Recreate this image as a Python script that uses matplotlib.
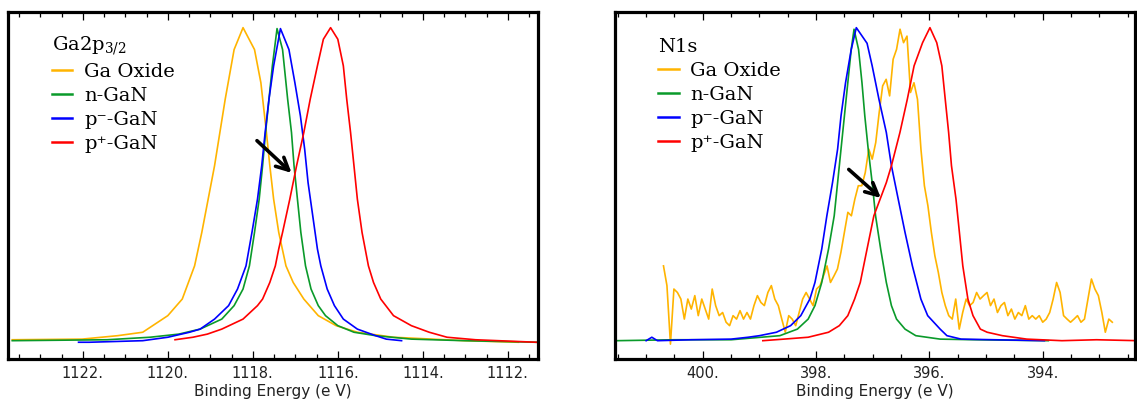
import numpy as np
import matplotlib
matplotlib.use("Agg")
from matplotlib import pyplot as plt
from matplotlib.ticker import MultipleLocator

# ---- Ga2p3/2 spectra (binding energy eV, normalised intensity) ----
ga_oxide_e = [1123.66, 1122.02, 1121.18, 1120.59, 1120.0, 1119.66, 1119.37, 1119.2, 1118.9,
              1118.65, 1118.44, 1118.23, 1117.96, 1117.81, 1117.68, 1117.6, 1117.51, 1117.39,
              1117.22, 1117.05, 1116.8, 1116.46, 1116.04, 1115.54, 1114.69, 1113.01, 1111.75]
ga_oxide_i = [0.003, 0.005, 0.016, 0.027, 0.08, 0.133, 0.239, 0.346, 0.559,
              0.771, 0.93, 1.0, 0.93, 0.824, 0.665, 0.559, 0.452, 0.346,
              0.239, 0.186, 0.133, 0.08, 0.048, 0.027, 0.011, 0.0, -0.005]

ga_n_e = [1123.66, 1121.43, 1120.42, 1119.74, 1119.24, 1118.73, 1118.44, 1118.23, 1118.08,
          1117.96, 1117.85, 1117.77, 1117.70, 1117.62, 1117.54, 1117.43, 1117.30, 1117.18,
          1117.09, 1117.03, 1116.95, 1116.87, 1116.76, 1116.63, 1116.46, 1116.29, 1116.0,
          1115.62, 1115.11, 1114.27, 1113.01, 1111.33]
ga_n_i = [0.0, 0.003, 0.011, 0.021, 0.037, 0.069, 0.112, 0.165, 0.239,
          0.346, 0.452, 0.559, 0.665, 0.771, 0.878, 0.997, 0.93, 0.771,
          0.665, 0.559, 0.452, 0.346, 0.239, 0.165, 0.112, 0.08, 0.048,
          0.027, 0.016, 0.005, 0.0, -0.005]

ga_pm_e = [1122.1, 1121.85, 1120.59, 1120.0, 1119.49, 1119.24, 1118.9, 1118.57, 1118.36,
           1118.16, 1118.02, 1117.89, 1117.79, 1117.71, 1117.62, 1117.51, 1117.35, 1117.15,
           1117.01, 1116.88, 1116.78, 1116.70, 1116.59, 1116.48, 1116.40, 1116.25, 1116.08,
           1115.87, 1115.54, 1115.11, 1114.86, 1114.5]
ga_pm_i = [-0.005, -0.005, 0.0, 0.011, 0.027, 0.037, 0.069, 0.112, 0.165,
           0.239, 0.346, 0.452, 0.559, 0.665, 0.771, 0.878, 0.997, 0.93,
           0.824, 0.718, 0.612, 0.505, 0.399, 0.293, 0.239, 0.165, 0.112,
           0.069, 0.037, 0.016, 0.005, 0.0]

ga_pp_e = [1119.83, 1119.41, 1119.07, 1118.73, 1118.23, 1117.89, 1117.77, 1117.6, 1117.47,
           1117.39, 1117.30, 1117.13, 1116.97, 1116.80, 1116.65, 1116.48, 1116.34, 1116.17,
           1116.0, 1115.87, 1115.79, 1115.70, 1115.62, 1115.54, 1115.43, 1115.28, 1115.16,
           1114.99, 1114.69, 1114.27, 1113.85, 1113.43, 1112.76, 1111.33]
ga_pp_i = [0.003, 0.011, 0.021, 0.037, 0.069, 0.112, 0.133, 0.186, 0.239,
           0.293, 0.346, 0.452, 0.559, 0.665, 0.771, 0.878, 0.963, 1.0,
           0.963, 0.878, 0.771, 0.665, 0.559, 0.452, 0.346, 0.239, 0.186,
           0.133, 0.08, 0.048, 0.027, 0.011, 0.003, -0.005]

# ---- N1s spectra ----
n_oxide_e = [400.694, 400.633, 400.571, 400.510, 400.448, 400.387, 400.326, 400.264, 400.203, 400.141,
             400.080, 400.018, 399.957, 399.896, 399.834, 399.773, 399.711, 399.650, 399.589, 399.527,
             399.466, 399.404, 399.343, 399.281, 399.220, 399.159, 399.097, 399.036, 398.974, 398.913,
             398.851, 398.790, 398.729, 398.667, 398.606, 398.544, 398.483, 398.422, 398.360, 398.299,
             398.237, 398.176, 398.114, 398.053, 397.992, 397.930, 397.869, 397.807, 397.746, 397.684,
             397.623, 397.562, 397.500, 397.439, 397.377, 397.316, 397.255, 397.193, 397.132, 397.070,
             397.009, 396.947, 396.886, 396.825, 396.763, 396.702, 396.640, 396.579, 396.518, 396.456,
             396.395, 396.333, 396.272, 396.210, 396.149, 396.088, 396.026, 395.965, 395.903, 395.842,
             395.780, 395.719, 395.658, 395.596, 395.535, 395.473, 395.412, 395.351, 395.289, 395.228,
             395.166, 395.105, 395.043, 394.982, 394.921, 394.859, 394.798, 394.736, 394.675, 394.614,
             394.552, 394.491, 394.429, 394.368, 394.306, 394.245, 394.184, 394.122, 394.061, 393.999,
             393.938, 393.876, 393.815, 393.754, 393.692, 393.631, 393.569, 393.508, 393.447, 393.385,
             393.324, 393.262, 393.201, 393.139, 393.078, 393.017, 392.955, 392.894, 392.832, 392.771]
n_oxide_i = [0.239, 0.176, -0.011, 0.165, 0.154, 0.133, 0.069, 0.133, 0.101, 0.144,
             0.080, 0.133, 0.101, 0.069, 0.165, 0.112, 0.080, 0.090, 0.059, 0.048,
             0.080, 0.069, 0.096, 0.069, 0.090, 0.069, 0.112, 0.144, 0.122, 0.112,
             0.154, 0.176, 0.133, 0.112, 0.069, 0.027, 0.080, 0.069, 0.048, 0.090,
             0.133, 0.154, 0.133, 0.112, 0.165, 0.176, 0.207, 0.239, 0.186, 0.207,
             0.229, 0.282, 0.346, 0.410, 0.399, 0.452, 0.495, 0.495, 0.537, 0.612,
             0.580, 0.633, 0.729, 0.814, 0.835, 0.782, 0.899, 0.931, 0.995, 0.952,
             0.973, 0.793, 0.824, 0.771, 0.612, 0.495, 0.431, 0.346, 0.271, 0.218,
             0.154, 0.112, 0.080, 0.069, 0.133, 0.037, 0.090, 0.133, 0.112, 0.122,
             0.154, 0.133, 0.144, 0.154, 0.112, 0.133, 0.090, 0.112, 0.122, 0.080,
             0.101, 0.069, 0.090, 0.080, 0.112, 0.069, 0.080, 0.069, 0.080, 0.059,
             0.069, 0.090, 0.133, 0.186, 0.154, 0.080, 0.069, 0.059, 0.069, 0.080,
             0.059, 0.069, 0.133, 0.197, 0.165, 0.144, 0.090, 0.027, 0.069, 0.059]

n_n_e = [401.52, 400.5, 399.5, 398.64, 398.33, 398.14, 398.02, 397.90, 397.78, 397.68,
         397.62, 397.56, 397.50, 397.44, 397.38, 397.33, 397.25, 397.19, 397.14, 397.08,
         397.01, 396.95, 396.86, 396.76, 396.67, 396.58, 396.43, 396.24, 395.81, 395.20, 393.9]
n_n_i = [0.0, 0.003, 0.003, 0.016, 0.037, 0.069, 0.112, 0.186, 0.293, 0.399,
         0.505, 0.612, 0.718, 0.824, 0.93, 0.995, 0.93, 0.824, 0.718, 0.612,
         0.505, 0.399, 0.293, 0.186, 0.112, 0.069, 0.037, 0.016, 0.005, 0.003, 0.0]

n_pm_e = [401.0, 400.9, 400.8, 400.2, 399.5, 399.2, 399.0, 398.70, 398.45, 398.27,
          398.11, 398.02, 397.90, 397.81, 397.71, 397.62, 397.56, 397.48, 397.38, 397.29,
          397.10, 397.01, 396.89, 396.76, 396.67, 396.55, 396.43, 396.30, 396.15, 396.03,
          395.81, 395.69, 395.44, 393.97]
n_pm_i = [0.0, 0.011, 0.0, 0.003, 0.005, 0.011, 0.016, 0.027, 0.048, 0.08,
          0.133, 0.186, 0.293, 0.399, 0.505, 0.612, 0.718, 0.824, 0.93, 1.0,
          0.95, 0.878, 0.771, 0.665, 0.559, 0.452, 0.346, 0.239, 0.133, 0.08,
          0.037, 0.016, 0.005, 0.0]

n_pp_e = [398.94, 398.57, 398.14, 397.78, 397.59, 397.44, 397.32, 397.22, 397.10, 396.98,
          396.76, 396.67, 396.52, 396.39, 396.27, 396.12, 395.99, 395.87, 395.78, 395.72,
          395.66, 395.61, 395.53, 395.47, 395.41, 395.32, 395.23, 395.10, 394.98, 394.71,
          394.28, 393.66, 393.05, 392.32]
n_pp_i = [0.0, 0.005, 0.011, 0.027, 0.048, 0.08, 0.133, 0.186, 0.293, 0.399,
          0.505, 0.559, 0.665, 0.771, 0.878, 0.952, 1.0, 0.952, 0.878, 0.771,
          0.665, 0.559, 0.452, 0.346, 0.239, 0.133, 0.08, 0.037, 0.027, 0.016,
          0.005, 0.0, 0.003, 0.0]

labels = ["Ga Oxide", "n-GaN", "p\u207b-GaN", "p\u207a-GaN"]
colors = ["#FFB400", "#0A9A2A", "#0000FF", "#FF0000"]

ga_ticks = [1122, 1120, 1118, 1116, 1114, 1112]
n_ticks = [400, 398, 396, 394]

plt.rcParams["mathtext.fontset"] = "custom"
plt.rcParams["mathtext.rm"] = "DejaVu Serif"
plt.rcParams["mathtext.it"] = "DejaVu Serif"

W, H = 1137, 401
fig = plt.figure(figsize=(W / 100, H / 100), dpi=100)
ax1 = fig.add_axes([8 / W, 1 - 359 / H, 530 / W, 347 / H])
ax2 = fig.add_axes([615 / W, 1 - 359 / H, 520 / W, 347 / H])

serif = ["DejaVu Serif", "DejaVu Sans"]


def style(ax, xlim, ticks, title, arrow, leg_y):
    ax.set_xlim(*xlim)
    ax.set_ylim(-0.0585, 1.05)
    ax.set_yticks([])
    ax.set_xticks(ticks)
    ax.set_xticklabels([f"{t}." for t in ticks], fontsize=10.5, color="#222222")
    ax.xaxis.set_minor_locator(MultipleLocator(0.5))
    ax.tick_params(axis="x", which="both", direction="in", top=True, bottom=True, pad=5)
    ax.tick_params(axis="x", which="major", length=6, width=0.9)
    ax.tick_params(axis="x", which="minor", length=3.5, width=0.9)
    for s in ax.spines.values():
        s.set_linewidth(2.3)
    ax.set_xlabel("Binding Energy (e V)", fontsize=11, color="#222222", labelpad=2)
    leg = ax.legend(loc="upper left", bbox_to_anchor=(0.083, leg_y), borderaxespad=0,
                    borderpad=0, frameon=False, title=title, alignment="left",
                    prop={"family": serif, "size": 14},
                    title_fontproperties={"family": serif, "size": 14},
                    handlelength=1.05, handletextpad=0.6, labelspacing=0.31)
    for ln in leg.get_lines():
        ln.set_linewidth(1.8)
    ax.annotate("", xy=arrow[1], xytext=arrow[0],
                arrowprops=dict(arrowstyle="->", lw=2.6, color="black", mutation_scale=22))


for e, i, c, lab in zip([ga_oxide_e, ga_n_e, ga_pm_e, ga_pp_e],
                        [ga_oxide_i, ga_n_i, ga_pm_i, ga_pp_i], colors, labels):
    ax1.plot(e, i, color=c, lw=1.2, label=lab)
style(ax1, (1123.76, 1111.29), ga_ticks, r"Ga2p$_{\mathrm{3/2}}$",
      ((1117.95, 0.645), (1117.04, 0.53)), 0.935)

for e, i, c, lab in zip([n_oxide_e, n_n_e, n_pm_e, n_pp_e],
                        [n_oxide_i, n_n_i, n_pm_i, n_pp_i], colors, labels):
    ax2.plot(e, i, color=c, lw=1.2, label=lab)
style(ax2, (401.55, 392.37), n_ticks, "N1s",
      ((397.46, 0.553), (396.82, 0.45)), 0.925)

fig.savefig("out.png", dpi=100)
